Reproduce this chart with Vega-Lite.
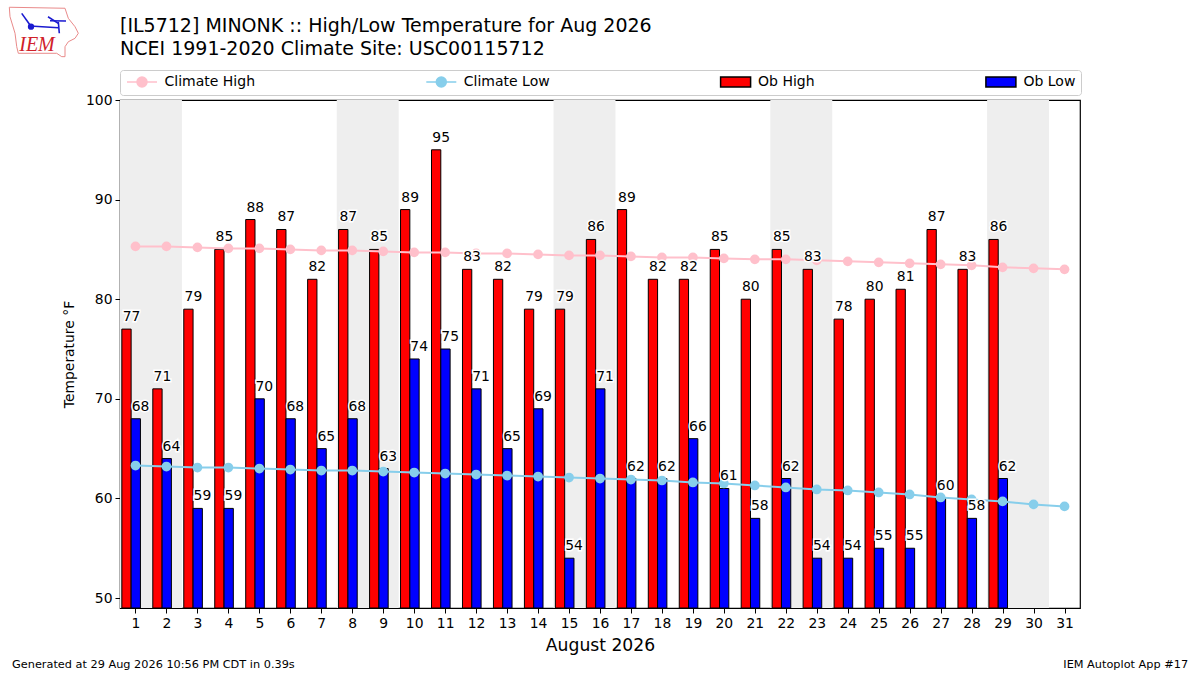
{
"$schema":"https://vega.github.io/schema/vega-lite/v6.json",
"width":960,"height":508,
"autosize":"none",
"padding":{"left":120,"top":100,"right":120,"bottom":67},
"background":"white",
"title":{"text":["[IL5712] MINONK :: High/Low Temperature for Aug 2026","NCEI 1991-2020 Climate Site: USC00115712"],"anchor":"start","frame":"group","font":"DejaVu Sans","fontSize":19,"fontWeight":"normal","lineHeight":23.5,"color":"black","offset":-54},
"config":{
"font":"DejaVu Sans",
"view":{"stroke":"black","strokeWidth":1.2},
"legend":{"orient":"none","legendX":0,"legendY":-30,"columns":4,"columnPadding":167.3,"padding":5,"fillColor":"white","strokeColor":"#cccccc","cornerRadius":3,"title":null,"labelFontSize":14,"labelColor":"black","labelOffset":15.5,"symbolSize":100,"symbolOffset":10,"symbolStrokeWidth":1.5,"symbolOpacity":1}
},
"datasets":{
"legendKey":[{"series":"Climate High","day":1,"value":60},{"series":"Climate Low","day":1,"value":60},{"series":"Ob High","day":1,"value":60},{"series":"Ob Low","day":1,"value":60}],
"weekends":[{"start":0.5,"end":2.5},{"start":7.5,"end":9.5},{"start":14.5,"end":16.5},{"start":21.5,"end":23.5},{"start":28.5,"end":30.5}],
"grid":[{"temp":50},{"temp":60},{"temp":70},{"temp":80},{"temp":90}],
"high":[{"day":1,"value":77},{"day":2,"value":71},{"day":3,"value":79},{"day":4,"value":85},{"day":5,"value":88},{"day":6,"value":87},{"day":7,"value":82},{"day":8,"value":87},{"day":9,"value":85},{"day":10,"value":89},{"day":11,"value":95},{"day":12,"value":83},{"day":13,"value":82},{"day":14,"value":79},{"day":15,"value":79},{"day":16,"value":86},{"day":17,"value":89},{"day":18,"value":82},{"day":19,"value":82},{"day":20,"value":85},{"day":21,"value":80},{"day":22,"value":85},{"day":23,"value":83},{"day":24,"value":78},{"day":25,"value":80},{"day":26,"value":81},{"day":27,"value":87},{"day":28,"value":83},{"day":29,"value":86}],
"low":[{"day":1,"value":68},{"day":2,"value":64},{"day":3,"value":59},{"day":4,"value":59},{"day":5,"value":70},{"day":6,"value":68},{"day":7,"value":65},{"day":8,"value":68},{"day":9,"value":63},{"day":10,"value":74},{"day":11,"value":75},{"day":12,"value":71},{"day":13,"value":65},{"day":14,"value":69},{"day":15,"value":54},{"day":16,"value":71},{"day":17,"value":62},{"day":18,"value":62},{"day":19,"value":66},{"day":20,"value":61},{"day":21,"value":58},{"day":22,"value":62},{"day":23,"value":54},{"day":24,"value":54},{"day":25,"value":55},{"day":26,"value":55},{"day":27,"value":60},{"day":28,"value":58},{"day":29,"value":62}],
"climate":[{"day":1,"chigh":85.3,"clow":63.3},{"day":2,"chigh":85.3,"clow":63.2},{"day":3,"chigh":85.2,"clow":63.1},{"day":4,"chigh":85.1,"clow":63.1},{"day":5,"chigh":85.1,"clow":63.0},{"day":6,"chigh":85.0,"clow":62.9},{"day":7,"chigh":84.9,"clow":62.8},{"day":8,"chigh":84.9,"clow":62.8},{"day":9,"chigh":84.8,"clow":62.7},{"day":10,"chigh":84.7,"clow":62.6},{"day":11,"chigh":84.7,"clow":62.5},{"day":12,"chigh":84.6,"clow":62.4},{"day":13,"chigh":84.6,"clow":62.3},{"day":14,"chigh":84.5,"clow":62.2},{"day":15,"chigh":84.4,"clow":62.1},{"day":16,"chigh":84.4,"clow":62.0},{"day":17,"chigh":84.3,"clow":61.9},{"day":18,"chigh":84.2,"clow":61.8},{"day":19,"chigh":84.2,"clow":61.6},{"day":20,"chigh":84.1,"clow":61.5},{"day":21,"chigh":84.0,"clow":61.3},{"day":22,"chigh":84.0,"clow":61.1},{"day":23,"chigh":83.9,"clow":60.9},{"day":24,"chigh":83.8,"clow":60.8},{"day":25,"chigh":83.7,"clow":60.6},{"day":26,"chigh":83.6,"clow":60.4},{"day":27,"chigh":83.5,"clow":60.1},{"day":28,"chigh":83.4,"clow":59.9},{"day":29,"chigh":83.2,"clow":59.7},{"day":30,"chigh":83.1,"clow":59.4},{"day":31,"chigh":83.0,"clow":59.2}],
"outline":[{"i":0,"d":-3.074,"t":109.31},{"i":1,"d":-1.276,"t":109.21},{"i":2,"d":-1.169,"t":108.20},{"i":3,"d":-0.953,"t":107.36},{"i":4,"d":-0.846,"t":106.70},{"i":5,"d":-0.953,"t":106.19},{"i":6,"d":-1.169,"t":105.85},{"i":7,"d":-1.276,"t":105.35},{"i":8,"d":-1.276,"t":104.35},{"i":9,"d":-1.382,"t":104.35},{"i":10,"d":-1.544,"t":104.69},{"i":11,"d":-2.784,"t":104.69},{"i":12,"d":-2.835,"t":105.35},{"i":13,"d":-2.890,"t":106.70},{"i":14,"d":-3.052,"t":108.36},{"i":15,"d":-3.074,"t":109.31}],
"station":[{"seg":"a","i":0,"d":-2.406,"t":107.43},{"seg":"a","i":1,"d":-1.492,"t":107.26},{"seg":"b","i":0,"d":-1.825,"t":108.36},{"seg":"b","i":1,"d":-1.492,"t":107.70},{"seg":"c","i":0,"d":-1.760,"t":107.96},{"seg":"c","i":1,"d":-1.244,"t":107.93},{"seg":"d","i":0,"d":-1.492,"t":107.86},{"seg":"d","i":1,"d":-1.460,"t":106.70},{"seg":"e","i":0,"d":-2.674,"t":108.70},{"seg":"e","i":1,"d":-2.406,"t":107.53}],
"stationDot":[{"d":-2.374,"t":107.36}],
"iem":[{"d":-2.18,"t":105.5,"label":"IEM"}],
"noteLeft":[{"d":-2.987,"t":43.28,"label":"Generated at 29 Aug 2026 10:56 PM CDT in 0.39s"}],
"noteRight":[{"d":34.99,"t":43.28,"label":"IEM Autoplot App #17"}]
},
"encoding":{
"x":{"field":"day","type":"quantitative","scale":{"domain":[0.5,31.5],"nice":false,"zero":false,"padding":0},
 "axis":{"values":[1,2,3,4,5,6,7,8,9,10,11,12,13,14,15,16,17,18,19,20,21,22,23,24,25,26,27,28,29,30,31],"format":"d","grid":false,"domain":false,"tickColor":"black","tickSize":5,"labelColor":"black","labelFontSize":13.9,"labelPadding":3,"labelOverlap":false,"labelFlush":false,"title":"August 2026","titleFontSize":17.2,"titleFontWeight":"normal","titleColor":"black","titlePadding":7}},
"y":{"type":"quantitative","scale":{"domain":[49,100],"nice":false,"zero":false},
 "axis":{"values":[50,60,70,80,90,100],"format":"d","grid":false,"domain":false,"tickColor":"black","tickSize":5,"labelColor":"black","labelFontSize":13.9,"labelPadding":3,"title":"Temperature °F","titleFontSize":13.9,"titleFontWeight":"normal","titleColor":"black","titlePadding":9}}
},
"layer":[
{"data":{"name":"weekends"},"mark":{"type":"rect","fill":"#eeeeee"},"encoding":{"x":{"field":"start","type":"quantitative"},"x2":{"field":"end"},"y":{"datum":49},"y2":{"datum":100}}},
{"data":{"name":"high"},"mark":{"type":"bar","width":9.3,"xOffset":-9,"fill":"red","stroke":"black","strokeWidth":1},"encoding":{"y":{"field":"value"},"y2":{"datum":49}}},
{"data":{"name":"low"},"mark":{"type":"bar","width":9.3,"xOffset":0.3,"fill":"blue","stroke":"black","strokeWidth":1},"encoding":{"y":{"field":"value"},"y2":{"datum":49}}},
{"data":{"name":"grid"},"mark":{"type":"rule","color":"#b0b0b0","strokeWidth":1.1},"encoding":{"x":{"datum":0.5},"x2":{"datum":31.5},"y":{"field":"temp"}}},
{"data":{"name":"climate"},"mark":{"type":"line","color":"pink","strokeWidth":2},"encoding":{"y":{"field":"chigh"}}},
{"data":{"name":"climate"},"mark":{"type":"point","filled":true,"color":"pink","size":95,"opacity":1},"encoding":{"y":{"field":"chigh"}}},
{"data":{"name":"climate"},"mark":{"type":"line","color":"skyblue","strokeWidth":2},"encoding":{"y":{"field":"clow"}}},
{"data":{"name":"climate"},"mark":{"type":"point","filled":true,"color":"skyblue","size":95,"opacity":1},"encoding":{"y":{"field":"clow"}}},
{"data":{"name":"legendKey"},"mark":{"type":"point","filled":true,"size":0,"opacity":1},"encoding":{"y":{"field":"value"},
 "fill":{"field":"series","type":"nominal","scale":{"domain":["Climate High","Climate Low","Ob High","Ob Low"],"range":["pink","skyblue","red","blue"]},"legend":{"title":null}},
 "stroke":{"field":"series","type":"nominal","scale":{"domain":["Climate High","Climate Low","Ob High","Ob Low"],"range":["pink","skyblue","black","black"]},"legend":{"title":null}},
 "shape":{"field":"series","type":"nominal","scale":{"domain":["Climate High","Climate Low","Ob High","Ob Low"],"range":["M-3,0H3M1,0A1,1 0 1 1 -1,0A1,1 0 1 1 1,0Z","M-3,0H3M1,0A1,1 0 1 1 -1,0A1,1 0 1 1 1,0Z","M-3,-1H3V1H-3Z","M-3,-1H3V1H-3Z"]},"legend":{"title":null}}}},
{"data":{"name":"high"},"mark":{"type":"text","dx":-4,"dy":-5,"baseline":"bottom","fontSize":13.9,"color":"white","stroke":"white","strokeWidth":3},"encoding":{"y":{"field":"value"},"text":{"field":"value"}}},
{"data":{"name":"low"},"mark":{"type":"text","dx":5,"dy":-5,"baseline":"bottom","fontSize":13.9,"color":"white","stroke":"white","strokeWidth":3},"encoding":{"y":{"field":"value"},"text":{"field":"value"}}},
{"data":{"name":"high"},"mark":{"type":"text","dx":-4,"dy":-5,"baseline":"bottom","fontSize":13.9,"color":"black"},"encoding":{"y":{"field":"value"},"text":{"field":"value"}}},
{"data":{"name":"low"},"mark":{"type":"text","dx":5,"dy":-5,"baseline":"bottom","fontSize":13.9,"color":"black"},"encoding":{"y":{"field":"value"},"text":{"field":"value"}}},
{"data":{"name":"outline"},"mark":{"type":"line","color":"#e98a8a","strokeWidth":1,"clip":false},"encoding":{"x":{"field":"d","type":"quantitative"},"y":{"field":"t"},"order":{"field":"i"}}},
{"data":{"name":"station"},"mark":{"type":"line","color":"#1a1ad0","strokeWidth":1.6,"clip":false},"encoding":{"x":{"field":"d","type":"quantitative"},"y":{"field":"t"},"detail":{"field":"seg"},"order":{"field":"i"}}},
{"data":{"name":"stationDot"},"mark":{"type":"point","filled":true,"color":"#1a1ad0","size":40,"opacity":1,"clip":false},"encoding":{"x":{"field":"d","type":"quantitative"},"y":{"field":"t"}}},
{"data":{"name":"iem"},"mark":{"type":"text","font":"Liberation Serif","fontStyle":"italic","fontSize":20,"color":"#d0202a","clip":false},"encoding":{"x":{"field":"d","type":"quantitative"},"y":{"field":"t"},"text":{"field":"label"}}},
{"data":{"name":"noteLeft"},"mark":{"type":"text","align":"left","fontSize":11.3,"color":"black","clip":false},"encoding":{"x":{"field":"d","type":"quantitative"},"y":{"field":"t"},"text":{"field":"label"}}},
{"data":{"name":"noteRight"},"mark":{"type":"text","align":"right","fontSize":11.3,"color":"black","clip":false},"encoding":{"x":{"field":"d","type":"quantitative"},"y":{"field":"t"},"text":{"field":"label"}}}
]
}
